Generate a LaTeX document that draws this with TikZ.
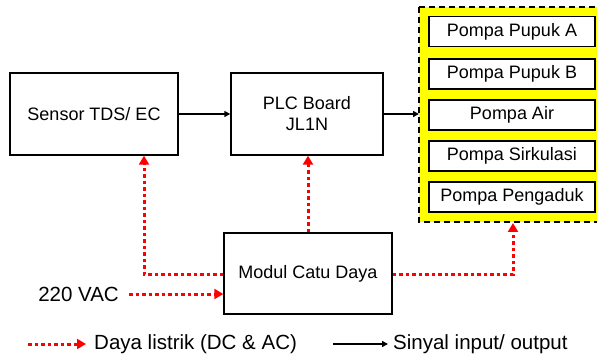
\documentclass[tikz,border=0pt]{standalone}
\usepackage{fontspec}
\setmainfont{Liberation Sans}
\usetikzlibrary{arrows.meta}
\definecolor{pwr}{RGB}{255,0,0}
\definecolor{ylw}{RGB}{255,255,0}
\begin{document}
\begin{tikzpicture}[x=1pt,y=-1pt,
  blk/.style={draw=black,line width=1.4pt,fill=white,inner sep=0pt,align=center,font=\fontsize{18}{21}\selectfont},
  pump/.style={blk,minimum width=166pt,minimum height=30pt},
  pwrline/.style={draw=pwr,line width=3pt,dash pattern=on 3.5pt off 3pt,-{Triangle[length=9pt,width=10pt,fill=pwr]}},
  pwrplain/.style={draw=pwr,line width=3pt,dash pattern=on 3.5pt off 3pt},
  sig/.style={draw=black,line width=1.5pt,-{Triangle[length=6pt,width=6pt]}},
  lbl/.style={inner sep=0pt,font=\fontsize{20.5}{24}\selectfont}]
\useasboundingbox (0,0) rectangle (597,358);
\clip (0,0) rectangle (597,358);
% yellow group
\draw[black,fill=ylw,line width=1.8pt,dash pattern=on 6pt off 4pt] (419,7) rectangle (602,222);
\node[pump] (pa) at (512,31.5) {Pompa Pupuk A};
\node[pump] (pb) at (512,74) {Pompa Pupuk B};
\node[pump] (pair) at (512,115) {Pompa Air};
\node[pump] (ps) at (512,156) {Pompa Sirkulasi};
\node[pump] (pp) at (512,197) {Pompa Pengaduk};
\coordinate (ygin) at (419,114);
\coordinate (ygbot) at (513,223);
% main blocks
\node[blk,minimum width=168pt,minimum height=82pt] (sensor) at (94,114) {Sensor TDS/ EC};
\node[blk,minimum width=152pt,minimum height=82pt] (plc) at (307,114) {PLC Board\\JL1N};
\node[blk,minimum width=168pt,minimum height=81pt] (psu) at (308,273.5) {Modul Catu Daya};
\node[lbl,anchor=east] (vac) at (119,294) {220 VAC};
% signals
\draw[sig] (sensor.east) -- (plc.west);
\draw[sig] (plc.east) -- (ygin);
% power
\coordinate (c1) at (144,274);
\draw[pwrline] (psu.west |- c1) -- (c1) -- (sensor.south -| c1);
\draw[pwrline] (psu.north -| 308,0) -- (plc.south -| 308,0);
\coordinate (c2) at (513,274);
\draw[pwrline] (psu.east |- c2) -- (c2) -- (ygbot);
\draw[pwrline] (129,294) -- (psu.west |- 0,294);
% legend
\coordinate (l1a) at (28,344);
\coordinate (l1b) at (86,344);
\draw[pwrline] (l1a) -- (l1b);
\node[lbl,anchor=west] (leg1) at (94,344) {Daya listrik (DC \& AC)};
\coordinate (l2a) at (333,344);
\coordinate (l2b) at (388,344);
\draw[sig] (l2a) -- (l2b);
\node[lbl,anchor=west] (leg2) at (393,344) {Sinyal input/ output};
\end{tikzpicture}
\end{document}
